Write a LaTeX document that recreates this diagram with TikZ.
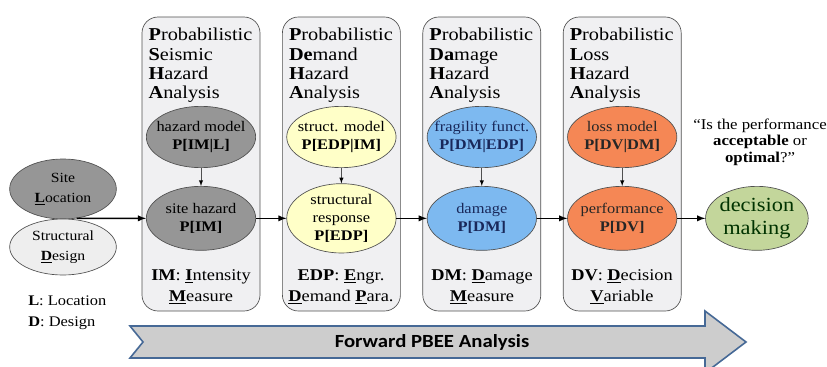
\documentclass[tikz,border=0pt]{standalone}
\usepackage{fontspec}
\setmainfont{Liberation Serif}[FakeStretch=1.12]
\newfontfamily\calibri{Carlito}[FakeStretch=1.12]
\usetikzlibrary{shapes.geometric}

\definecolor{boxfill}{RGB}{240,240,242}
\definecolor{boxline}{RGB}{80,80,80}
\definecolor{darkfill}{RGB}{150,150,150}
\definecolor{nodeline}{RGB}{80,80,80}
\definecolor{lightfill}{RGB}{238,238,238}
\definecolor{yellowfill}{RGB}{255,255,200}
\definecolor{bluefill}{RGB}{125,185,240}
\definecolor{bluetext}{RGB}{25,40,90}
\definecolor{orangefill}{RGB}{245,135,85}
\definecolor{greenfill}{RGB}{195,214,155}
\definecolor{arrowfill}{RGB}{205,205,205}
\definecolor{arrowline}{RGB}{70,105,150}

\newcommand{\ulb}[1]{\underline{\textbf{#1}}}

\begin{document}
\begin{tikzpicture}[x=0.75pt,y=-0.75pt,-,auto,node distance=105.3pt,
    stage node/.style={rectangle,rounded corners=12pt,draw=boxline,fill=boxfill,line width=0.5pt,minimum width=88.5pt,minimum height=220.5pt},
    title node/.style={anchor=north west,align=left,inner sep=0pt,font=\fontsize{13.6}{14.5}\selectfont},
    main node/.style={ellipse,draw=nodeline,line width=0.5pt,align=center,inner xsep=-10pt,inner ysep=-4pt,minimum width=82pt,minimum height=46pt,font=\fontsize{11}{13.5}\selectfont},
    gray node/.style={main node,fill=darkfill},
    light node/.style={main node,fill=lightfill},
    yellow node/.style={main node,fill=yellowfill},
    blue node/.style={main node,fill=bluefill,text=bluetext},
    orange node/.style={main node,fill=orangefill,text=black!85},
    green node/.style={main node,fill=greenfill,text=black!80!green},
    label node/.style={align=center,font=\fontsize{12.3}{15.5}\selectfont},
    flow/.style={-latex,line width=1.1pt},
    link/.style={-latex,line width=0.5pt,draw=nodeline}]
    \useasboundingbox (0,0) rectangle (827,367);

    \node[stage node] (3) at (201,164) {};
    \node[stage node] (4) [right of=3] {};
    \node[stage node] (5) [right of=4] {};
    \node[stage node] (6) [right of=5] {};

    \node[title node] (3a) at ([shift={(5pt,-8.5pt)}]3.north west) {\textbf{P}robabilistic\\\textbf{S}eismic\\\textbf{H}azard\\\textbf{A}nalysis};
    \node[title node] (4a) at ([shift={(5pt,-8.5pt)}]4.north west) {\textbf{P}robabilistic\\\textbf{De}mand\\\textbf{H}azard\\\textbf{A}nalysis};
    \node[title node] (5a) at ([shift={(5pt,-8.5pt)}]5.north west) {\textbf{P}robabilistic\\\textbf{Da}mage\\\textbf{H}azard\\\textbf{A}nalysis};
    \node[title node] (6a) at ([shift={(5pt,-8.5pt)}]6.north west) {\textbf{P}robabilistic\\\textbf{L}oss\\\textbf{H}azard\\\textbf{A}nalysis};

    \node[gray node] (7) at (201,137) {hazard model\\\textbf{P[IM|L]}};
    \node[gray node,minimum height=48pt] (8) [below of=7,node distance=61pt] {site hazard\\\textbf{P[IM]}};
    \node[yellow node] (9) [right of=7] {struct. model\\\textbf{P[EDP|IM]}};
    \node[yellow node,minimum height=52pt] (10) [right of=8] {structural\\response\\\textbf{P[EDP]}};
    \node[blue node] (11) [right of=9] {fragility funct.\\\textbf{P[DM|EDP]}};
    \node[blue node,minimum height=48pt] (12) [right of=10] {damage\\\textbf{P[DM]}};
    \node[orange node] (13) [right of=11] {loss model\\\textbf{P[DV|DM]}};
    \node[orange node,minimum height=48pt] (14) [right of=12] {performance\\\textbf{P[DV]}};
    \node[green node,minimum width=77pt,minimum height=48pt,inner ysep=-5pt,font=\fontsize{15}{17}\selectfont] (15) [right of=14,node distance=101pt] {decision\\making};

    \node[gray node,minimum width=80pt,minimum height=45pt,font=\fontsize{10.5}{15}\selectfont] (1) at (63,189) {Site\\\ulb{L}ocation};
    \node[light node,minimum width=80pt,minimum height=42pt,font=\fontsize{10.5}{15}\selectfont] (2) at (63,247) {Structural\\\ulb{D}esign};

    \node[label node] (3b) at (201,287) {\textbf{IM}: \ulb{I}ntensity\\\ulb{M}easure};
    \node[label node] (4b) at (341,287) {\textbf{EDP}: \ulb{E}ngr.\\\ulb{D}emand \ulb{P}ara.};
    \node[label node] (5b) at (482,287) {\textbf{DM}: \ulb{D}amage\\\ulb{M}easure};
    \node[label node] (6b) at (622,287) {\textbf{DV}: \ulb{D}ecision\\\ulb{V}ariable};

    \node[anchor=north west,align=left,inner sep=0pt,font=\fontsize{11}{15.5}\selectfont] (16) at (28,296) {\textbf{L}: Location\\\textbf{D}: Design};
    \node[align=center,font=\fontsize{11.25}{12.5}\selectfont] (17) at (760,142) {“Is the performance\\\textbf{acceptable} or\\\textbf{optimal}?”};

    \path[link]
        (7) edge (8)
        (9) edge (10)
        (11) edge (12)
        (13) edge (14);

    \path[flow]
        (1.-65) edge (8)
        (8) edge (10)
        (10) edge (12)
        (12) edge (14)
        (14) edge (15);

    \draw[draw=arrowline,fill=arrowfill,line width=1.2pt,line join=miter]
        (130,326) -- (705,326) -- (705,311) -- (746,342) -- (705,373)
        -- (705,358) -- (130,358) -- (143,342) -- cycle;
    \node[font=\calibri\bfseries\fontsize{13.9}{15}\selectfont] (18) at (432,342) {Forward PBEE Analysis};
\end{tikzpicture}
\end{document}
